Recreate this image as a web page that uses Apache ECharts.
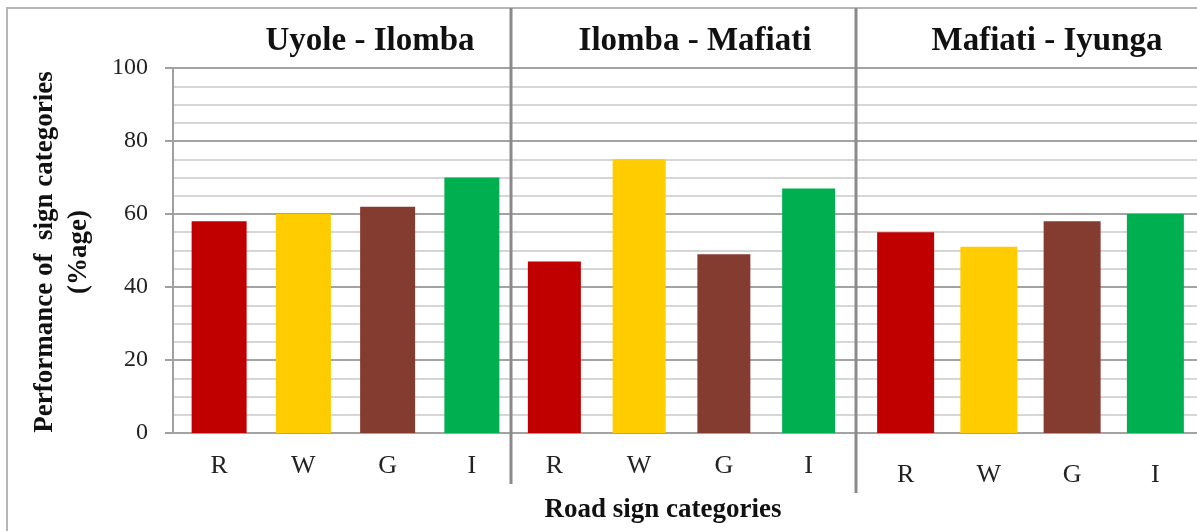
<!DOCTYPE html>
<html>
<head>
<meta charset="utf-8">
<script src="https://cdn.jsdelivr.net/npm/echarts@6/dist/echarts.min.js"></script>
<style>
  html, body { margin: 0; padding: 0; background: #fff; }
  #chart { width: 1197px; height: 531px; }
</style>
</head>
<body>
<div id="chart"></div>
<script>
// data
const categories = ['R', 'W', 'G', 'I'];
const panelTitles = ['Uyole - Ilomba', 'Ilomba - Mafiati', 'Mafiati - Iyunga'];
const uyoleIlomba = [58, 60, 62, 70];
const ilombaMafiati = [47, 75, 49, 67];
const mafiatiIyunga = [55, 51, 58, 60];
const barColors = ['#C00000', '#FFCC00', '#843C30', '#00B050'];

const serif = '"Liberation Serif", "Times New Roman", serif';
const panelValues = [uyoleIlomba, ilombaMafiati, mafiatiIyunga];

// panel geometry (grid 0 is only the shared background with gridlines)
const panels = [
  { left: 177, width: 337, barWidth: 55, labelMargin: 20, titleX: 370 },
  { left: 512, width: 339, barWidth: 53, labelMargin: 20, titleX: 695 },
  { left: 864, width: 338, barWidth: 57, labelMargin: 29, titleX: 1047 }
];

const chart = echarts.init(document.getElementById('chart'));

const grids = [{ left: 173, right: 0, top: 68, height: 365 }];
const xAxes = [{ gridIndex: 0, type: 'value', min: 0, max: 1, show: false }];
const yAxes = [{
  gridIndex: 0,
  type: 'value',
  min: 0,
  max: 100,
  interval: 20,
  axisLine: { show: true, lineStyle: { color: '#a0a0a0', width: 2 } },
  axisTick: { show: true, length: 8, lineStyle: { color: '#a0a0a0', width: 2 } },
  axisLabel: { color: '#222', fontFamily: serif, fontSize: 24, margin: 25 },
  splitLine: { show: true, lineStyle: { color: '#a3a3a3', width: 2 } },
  minorTick: { show: false, splitNumber: 4 },
  minorSplitLine: { show: true, lineStyle: { color: '#d6d6d6', width: 2 } }
}];
const series = [];

panels.forEach((p, i) => {
  const idx = i + 1;
  grids.push({ left: p.left, width: p.width, top: 68, height: 365 });
  xAxes.push({
    gridIndex: idx,
    type: 'category',
    data: categories,
    axisLine: { show: false },
    axisTick: { show: false },
    axisLabel: { color: '#222', fontFamily: serif, fontSize: 26, margin: p.labelMargin }
  });
  yAxes.push({ gridIndex: idx, type: 'value', min: 0, max: 100, show: false });
  series.push({
    type: 'bar',
    xAxisIndex: idx,
    yAxisIndex: idx,
    barWidth: p.barWidth,
    data: panelValues[i].map((v, k) => ({ value: v, itemStyle: { color: barColors[k] } }))
  });
});

const graphics = [
  // outer frame
  { type: 'rect', shape: { x: 7, y: 8, width: 1210, height: 560 },
    style: { fill: 'none', stroke: '#b5b5b5', lineWidth: 2 }, z: -10 },
  // panel separators
  { type: 'line', shape: { x1: 511, y1: 8, x2: 511, y2: 484 },
    style: { stroke: '#8a8a8a', lineWidth: 3 }, z: 10 },
  { type: 'line', shape: { x1: 856, y1: 8, x2: 856, y2: 493 },
    style: { stroke: '#8a8a8a', lineWidth: 3 }, z: 10 },
  // y axis name
  { type: 'text', x: 62, y: 252, rotation: Math.PI / 2,
    style: { text: 'Performance of  sign categories\n(%age)', fill: '#111',
      font: 'bold 27px ' + serif, lineHeight: 34, align: 'center', verticalAlign: 'middle' } },
  // x axis name
  { type: 'text', x: 663, y: 510,
    style: { text: 'Road sign categories', fill: '#111',
      font: 'bold 27px ' + serif, align: 'center', verticalAlign: 'middle' } }
];
panels.forEach((p, i) => {
  graphics.push({ type: 'text', x: p.titleX, y: 41,
    style: { text: panelTitles[i], fill: '#111',
      font: 'bold 33px ' + serif, align: 'center', verticalAlign: 'middle' } });
});

chart.setOption({
  animation: false,
  grid: grids,
  xAxis: xAxes,
  yAxis: yAxes,
  series: series,
  graphic: graphics
});
</script>
</body>
</html>
